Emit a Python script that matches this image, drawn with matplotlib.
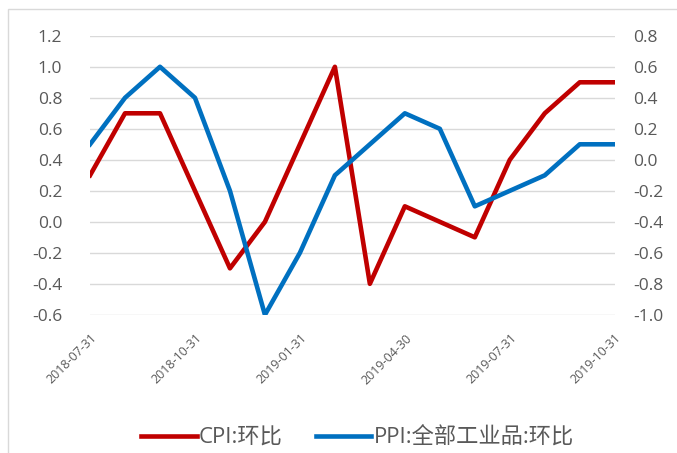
import matplotlib.pyplot as plt
from matplotlib.patches import Rectangle

plt.rcParams['font.family'] = ['Open Sans', 'Noto Sans CJK SC']

datas = ['2018-07-31', '2018-08-31', '2018-09-30', '2018-10-31', '2018-11-30', '2018-12-31',
         '2019-01-31', '2019-02-28', '2019-03-31', '2019-04-30', '2019-05-31', '2019-06-30',
         '2019-07-31', '2019-08-31', '2019-09-30', '2019-10-31']
cpi = [0.3, 0.7, 0.7, 0.2, -0.3, 0.0, 0.5, 1.0, -0.4, 0.1, 0.0, -0.1, 0.4, 0.7, 0.9, 0.9]
ppi = [0.1, 0.4, 0.6, 0.4, -0.2, -1.0, -0.6, -0.1, 0.1, 0.3, 0.2, -0.3, -0.2, -0.1, 0.1, 0.1]

cinza = '#595959'

fig = plt.figure(figsize=(6.77, 4.53), dpi=100)
ax = fig.add_axes([0.133, 0.305, 0.775, 0.616])
ax2 = ax.twinx()

x = list(range(len(datas)))
l1, = ax.plot(x, cpi, color='#C00000', lw=3.3, label='CPI:环比')
l2, = ax2.plot(x, ppi, color='#0070C0', lw=3.3, label='PPI:全部工业品:环比')

ax.set_xlim(0, len(datas) - 1)
ax.set_ylim(-0.6, 1.2)
ax2.set_ylim(-1.0, 0.8)
ax.set_yticks([round(-0.6 + 0.2 * i, 1) for i in range(10)])
ax2.set_yticks([round(-1.0 + 0.2 * i, 1) for i in range(10)])
ax.yaxis.set_major_formatter(lambda v, p: f'{v:.1f}')
ax2.yaxis.set_major_formatter(lambda v, p: f'{v:.1f}')

ax.set_xticks(x[::3])
ax.set_xticklabels(datas[::3], rotation=45, ha='right', rotation_mode='anchor', fontsize=9, color=cinza)

ax.grid(axis='y', color='#D9D9D9', lw=1)
ax.set_axisbelow(True)
for a in (ax, ax2):
    for s in a.spines.values():
        s.set_visible(False)
    a.tick_params(length=0, labelsize=12.5, colors=cinza)
ax.tick_params(axis='y', pad=20)
ax2.tick_params(axis='y', pad=13)
ax.tick_params(axis='x', labelsize=9, pad=12)

fig.legend([l1, l2], ['CPI:环比', 'PPI:全部工业品:环比'], loc='center', bbox_to_anchor=(0.528, 0.033),
           ncol=2, frameon=False, fontsize=16, handlelength=2.5, handletextpad=0.1,
           columnspacing=1.5, labelcolor=cinza)

fig.patches.append(Rectangle((8 / 677, -0.1), 1.2, 1.1 - 9 / 453, transform=fig.transFigure,
                             fill=False, edgecolor='#D9D9D9', lw=1))

plt.savefig('out.png', dpi=100)
plt.close('all')
